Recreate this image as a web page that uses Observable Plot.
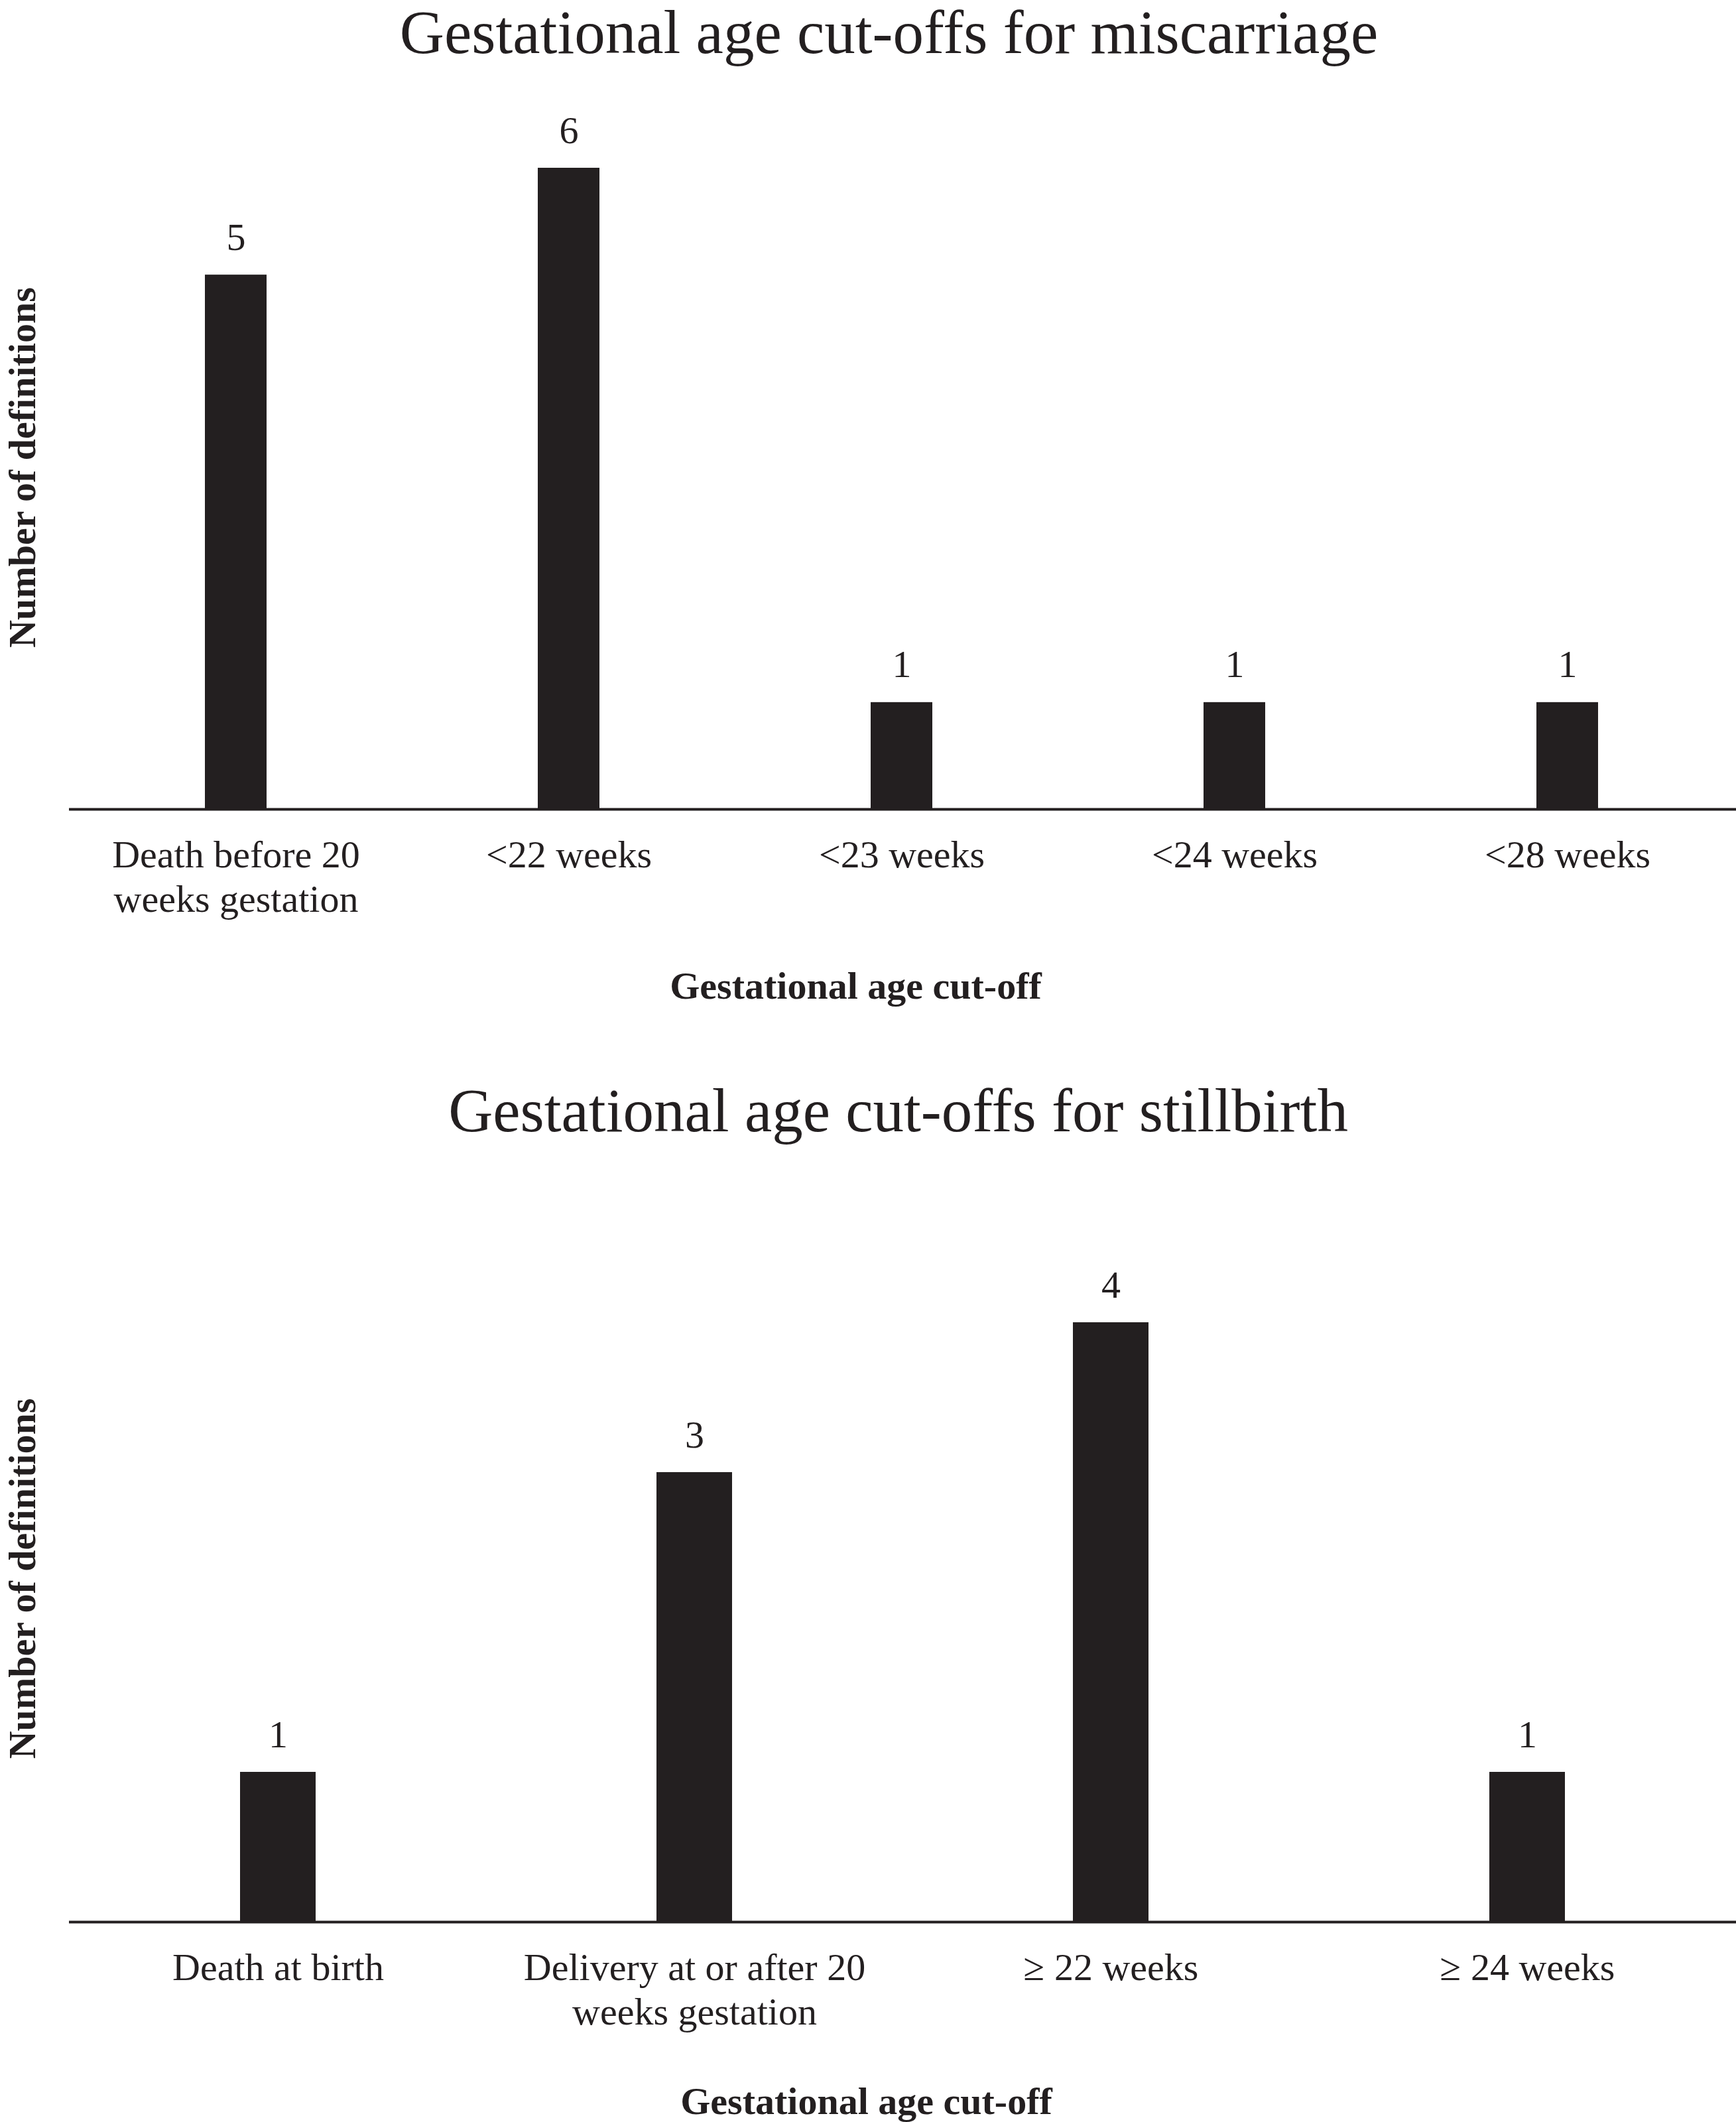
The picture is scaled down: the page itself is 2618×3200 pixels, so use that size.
<!DOCTYPE html>
<html>
<head>
<meta charset="utf-8">
<script src="https://cdn.jsdelivr.net/npm/d3@7"></script>
<script src="https://cdn.jsdelivr.net/npm/@observablehq/plot@0.6"></script>
<style>
  html, body { margin: 0; padding: 0; background: #fff; }
  #chart svg { display: block; }
</style>
</head>
<body>
<div id="chart"></div>
<script>
// ---- Data ----
const missTitle = "Gestational age cut-offs for miscarriage";
const missCategories = ["Death before 20 weeks gestation", "<22 weeks", "<23 weeks", "<24 weeks", "<28 weeks"];
const missTickLabels = ["Death before 20\nweeks gestation", "<22 weeks", "<23 weeks", "<24 weeks", "<28 weeks"];
const missCounts = [5, 6, 1, 1, 1];

const stillTitle = "Gestational age cut-offs for stillbirth";
const stillCategories = ["Death at birth", "Delivery at or after 20 weeks gestation", "≥ 22 weeks", "≥ 24 weeks"];
const stillTickLabels = ["Death at birth", "Delivery at or after 20\nweeks gestation", "≥ 22 weeks", "≥ 24 weeks"];
const stillCounts = [1, 3, 4, 1];

const xTitle = "Gestational age cut-off";
const yTitle = "Number of definitions";

// ---- Style ----
const INK = "#231f20";
const FONT = "'Liberation Serif', 'Times New Roman', serif";

function panel(cfg) {
  const data = cfg.categories.map((c, i) => ({cat: c, n: cfg.counts[i]}));
  const labelOf = new Map(cfg.categories.map((c, i) => [c, cfg.tickLabels[i]]));
  return Plot.plot({
    width: 2618,
    height: cfg.height,
    marginLeft: cfg.marginLeft,
    marginRight: 0,
    marginTop: cfg.marginTop,
    marginBottom: cfg.marginBottom,
    style: {fontFamily: FONT, fontSize: "58px", color: INK, background: "#fff"},
    x: {domain: cfg.categories, range: cfg.xRange, paddingInner: cfg.padding, paddingOuter: cfg.padding / 2, axis: null},
    y: {domain: [0, cfg.yMax], axis: null},
    marks: [
      Plot.barY(data, {x: "cat", y: "n", fill: INK}),
      Plot.ruleY([0], {stroke: INK, strokeWidth: 4}),
      Plot.text(data, {x: "cat", y: "n", text: d => String(d.n), dy: -38, lineAnchor: "bottom",
        fontSize: 58, fill: INK, fontFamily: FONT}),
      Plot.axisX({tickSize: 0, tickPadding: 40, tickFormat: d => labelOf.get(d), fontSize: 58,
        lineHeight: 1.155, fill: INK, label: null}),
      Plot.text([cfg.title], {frameAnchor: "top", textAnchor: "middle", lineAnchor: "bottom",
        dx: cfg.titleDx, dy: cfg.titleDy, fontSize: 93, fill: INK, fontFamily: FONT}),
      Plot.text([xTitle], {frameAnchor: "bottom", textAnchor: "middle", lineAnchor: "bottom",
        dx: cfg.xTitleDx, dy: cfg.xTitleDy, fontSize: 58, fontWeight: "bold", fill: INK, fontFamily: FONT}),
      Plot.text([yTitle], {frameAnchor: "left", textAnchor: "middle", lineAnchor: "middle", rotate: -90,
        dx: -70, dy: cfg.yTitleDy, fontSize: 58, fontWeight: "bold", fill: INK, fontFamily: FONT})
    ]
  });
}

const missPlot = panel({
  title: missTitle, categories: missCategories, tickLabels: missTickLabels, counts: missCounts,
  height: 1560, marginLeft: 104, marginTop: 253, marginBottom: 340, xRange: [104, 2614],
  padding: 0.815, yMax: 6, titleDx: -21, titleDy: -174, xTitleDx: -71, xTitleDy: 285, yTitleDy: -32
});
const stillPlot = panel({
  title: stillTitle, categories: stillCategories, tickLabels: stillTickLabels, counts: stillCounts,
  height: 1640, marginLeft: 104, marginTop: 434, marginBottom: 302, xRange: [104, 2618],
  padding: 0.819, yMax: 4, titleDx: -7, titleDy: -289, xTitleDx: -55, xTitleDy: 289, yTitleDy: -66
});

document.getElementById("chart").append(missPlot, stillPlot);
</script>
</body>
</html>
